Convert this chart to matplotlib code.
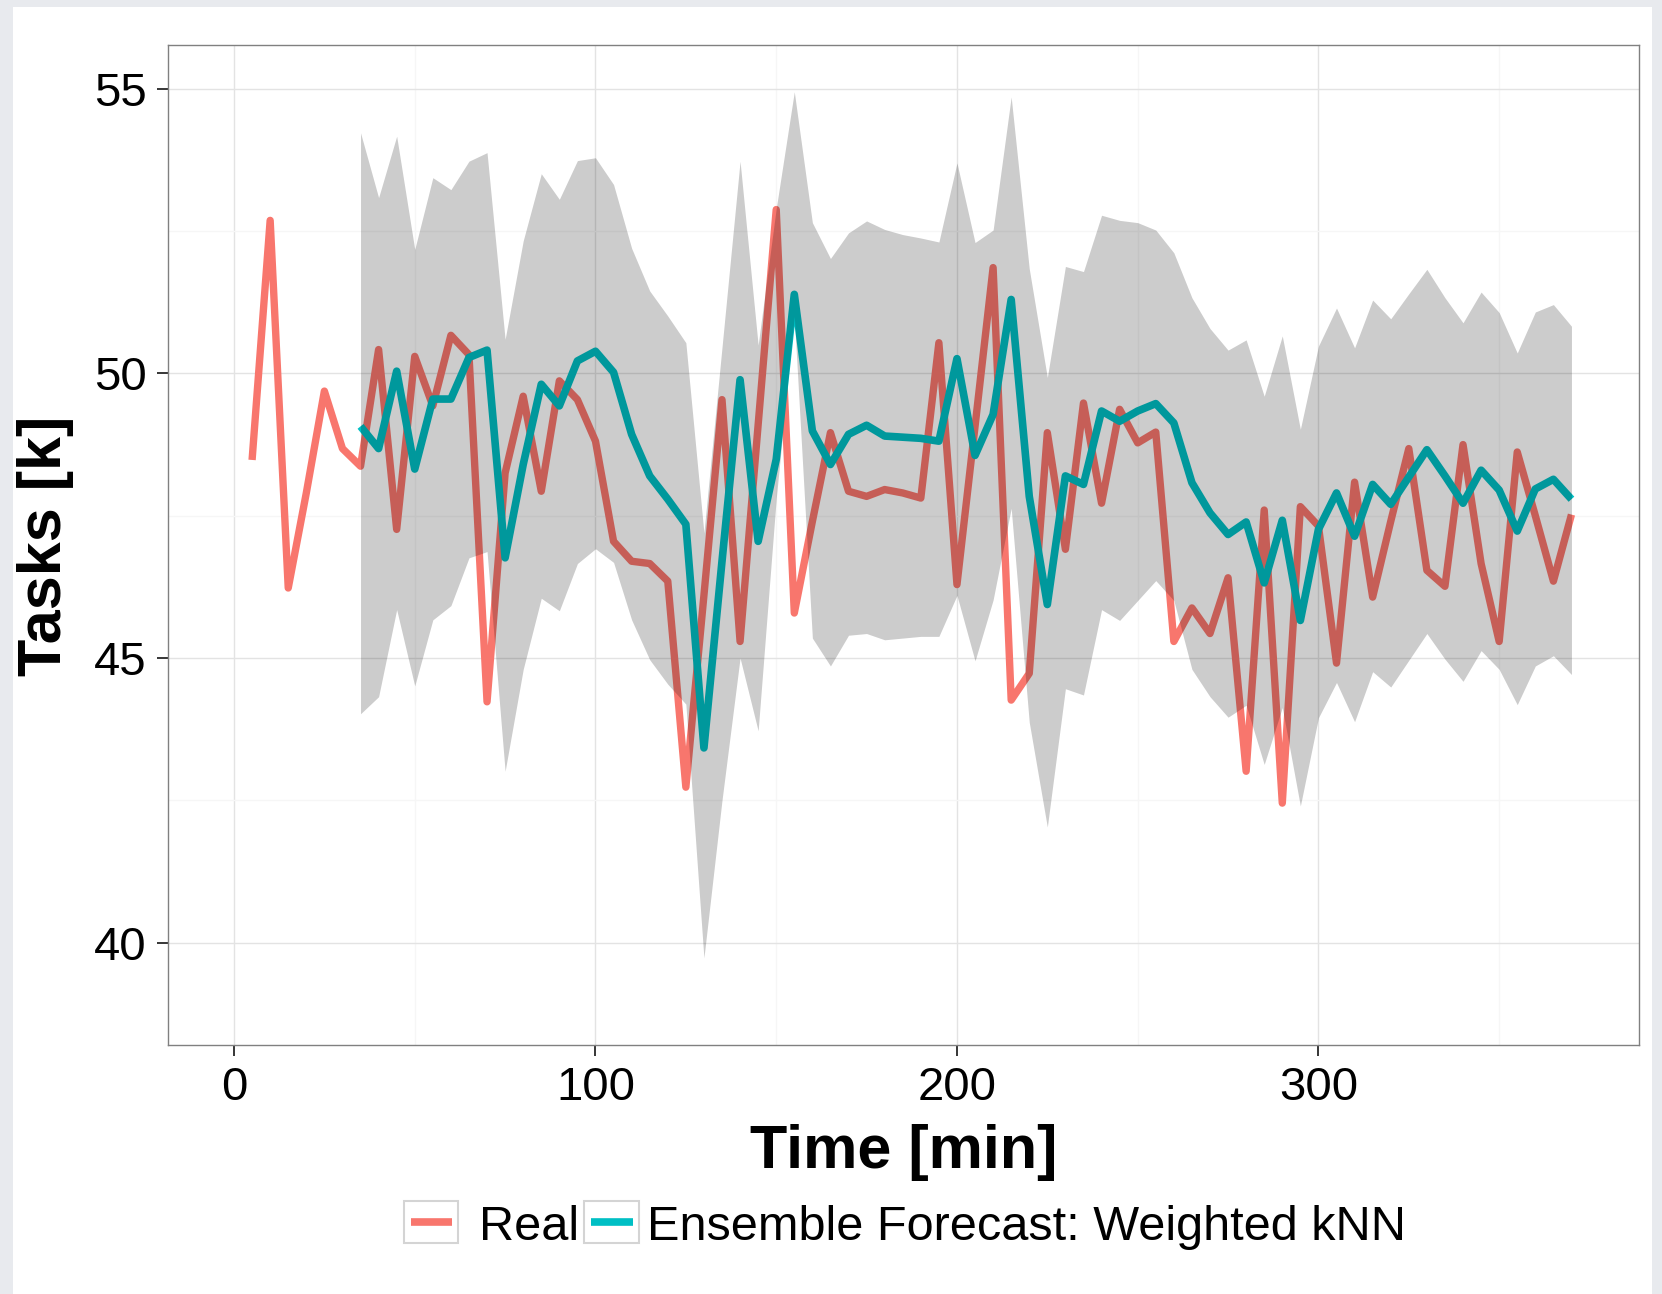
import numpy as np
import matplotlib
matplotlib.use("Agg")
import matplotlib.pyplot as plt
from matplotlib.patches import Rectangle
from matplotlib.lines import Line2D

# time in minutes, one sample every 5 min
t_real = np.arange(5, 375, 5)
t_fc = np.arange(35, 375, 5)

# observed task counts [k]
real = [48.48, 52.69, 46.23, 47.90, 49.69, 48.68, 48.37, 50.42, 47.26, 50.30,
        49.43, 50.67, 50.33, 44.23, 48.25, 49.60, 47.93, 49.87, 49.54, 48.81,
        47.05, 46.70, 46.66, 46.35, 42.73, 46.10, 49.54, 45.29, 49.10, 52.88,
        45.79, 47.40, 48.96, 47.93, 47.84, 47.96, 47.90, 47.81, 50.54, 46.29,
        49.07, 51.86, 44.26, 44.73, 48.96, 46.91, 49.48, 47.72, 49.37, 48.78,
        48.97, 45.29, 45.88, 45.43, 46.41, 43.01, 47.60, 42.45, 47.66, 47.32,
        44.91, 48.09, 46.07, 47.40, 48.68, 46.54, 46.26, 48.75, 46.66, 45.29,
        48.62, 47.50, 46.35, 47.52]

# weighted kNN ensemble forecast and its band
forecast = [49.07, 48.68, 50.04, 48.32, 49.55, 49.55, 50.28, 50.41, 46.76, 48.40,
            49.81, 49.43, 50.22, 50.39, 50.02, 48.93, 48.20, 47.79, 47.35, 43.42,
            46.70, 49.89, 47.05, 48.49, 51.39, 48.99, 48.40, 48.93, 49.09, 48.90,
            48.88, 48.86, 48.81, 50.26, 48.56, 49.28, 51.30, 47.84, 45.94, 48.20,
            48.05, 49.34, 49.16, 49.34, 49.47, 49.13, 48.08, 47.55, 47.17, 47.39,
            46.32, 47.42, 45.66, 47.26, 47.90, 47.14, 48.05, 47.70, 48.18, 48.66,
            48.20, 47.72, 48.30, 47.95, 47.23, 47.97, 48.14, 47.79]

fc_upper = [54.23, 53.09, 54.17, 52.18, 53.44, 53.23, 53.73, 53.88, 50.60, 52.33,
            53.51, 53.06, 53.74, 53.79, 53.32, 52.20, 51.45, 51.01, 50.54, 47.20,
            50.46, 53.73, 50.50, 52.90, 54.95, 52.65, 52.02, 52.47, 52.68, 52.53,
            52.44, 52.38, 52.31, 53.70, 52.30, 52.52, 54.86, 51.84, 49.93, 51.88,
            51.79, 52.78, 52.69, 52.65, 52.52, 52.12, 51.33, 50.79, 50.41, 50.59,
            49.60, 50.66, 49.02, 50.48, 51.15, 50.45, 51.29, 50.96, 51.40, 51.83,
            51.33, 50.89, 51.43, 51.07, 50.36, 51.08, 51.21, 50.83]

fc_lower = [44.02, 44.32, 45.85, 44.51, 45.67, 45.92, 46.76, 46.87, 43.01, 44.80,
            46.05, 45.83, 46.66, 46.92, 46.68, 45.67, 44.97, 44.54, 44.19, 39.73,
            42.50, 45.00, 43.72, 47.80, 51.00, 45.35, 44.86, 45.40, 45.43, 45.32,
            45.35, 45.38, 45.38, 46.10, 44.95, 46.02, 47.63, 43.87, 42.03, 44.46,
            44.35, 45.85, 45.66, 46.01, 46.36, 46.01, 44.80, 44.32, 43.96, 44.17,
            43.13, 44.13, 42.40, 43.95, 44.57, 43.88, 44.76, 44.49, 44.96, 45.43,
            44.98, 44.59, 45.13, 44.80, 44.18, 44.86, 45.04, 44.71]

labels = ["Real", "Ensemble Forecast: Weighted kNN"]
colors = ["#F8766D", "#00BFC4"]

W, H = 1662, 1294
plt.rcParams['font.family'] = ['Liberation Sans', 'DejaVu Sans']

fig = plt.figure(figsize=(W / 100, H / 100), dpi=100)
fig.patch.set_facecolor('#e8eaee')
fig.add_artist(Rectangle((13 / W, 0), (W - 23) / W, 1 - 7 / H, transform=fig.transFigure,
                         facecolor='white', edgecolor='none', zorder=-1))


def fx(px):
    return px / W


def fy(py):
    return 1 - py / H


ax = fig.add_axes([fx(167.5), fy(1045), (1638.7 - 167.5) / W, (1045 - 44.5) / H])
ax.set_facecolor('white')

ax.plot(t_real, real, color=colors[0], lw=5.3, solid_joinstyle='round',
        solid_capstyle='butt', zorder=2)
ax.plot(t_fc, forecast, color=colors[1], lw=5.5, solid_joinstyle='round',
        solid_capstyle='butt', zorder=3)
ax.fill_between(t_fc, fc_lower, fc_upper, color='black', alpha=0.2, lw=0, zorder=4)

ax.set_xlim(-18.4, 388.6)
ax.set_ylim(38.2, 55.78)
ax.set_xticks([0, 100, 200, 300])
ax.set_xticks([50, 150, 250, 350], minor=True)
ax.set_yticks([40, 45, 50, 55])
ax.set_yticks([42.5, 47.5, 52.5], minor=True)
ax.grid(which='major', color='#e3e3e3', lw=1.0)
ax.grid(which='minor', color='#f6f6f6', lw=1.0)
ax.set_axisbelow(True)

ax.tick_params(which='major', length=8, width=1.1, color='black',
               labelsize=34, labelcolor='black', pad=7)
ax.tick_params(which='minor', length=0)
for s in ax.spines.values():
    s.set_color('#808080')
    s.set_linewidth(1.0)

fig.text(fx(904), fy(1168), "Time [min]", ha='center', va='baseline',
         fontsize=44, fontweight='bold')
fig.text(fx(45.5), fy(546), "Tasks [k]", ha='center', va='center', rotation=90,
         fontsize=44, fontweight='bold')

# legend: boxed keys below the x axis title
key_boxes = [(404, 458), (584, 639)]
text_x = [479, 646.6]
for (x0, x1), c, lab, tx in zip(key_boxes, colors, labels, text_x):
    fig.add_artist(Rectangle((fx(x0), fy(1243)), (x1 - x0) / W, 42 / H,
                             transform=fig.transFigure, facecolor='white',
                             edgecolor='#d4d4d4', lw=1.5))
    fig.add_artist(Line2D([fx(x0 + 7), fx(x1 - 6)], [fy(1222), fy(1222)],
                          transform=fig.transFigure, color=c, lw=5.5,
                          solid_capstyle='butt'))
    fig.text(fx(tx), fy(1240), lab, ha='left', va='baseline', fontsize=35)

fig.savefig("out.png", dpi=100, facecolor=fig.get_facecolor())
